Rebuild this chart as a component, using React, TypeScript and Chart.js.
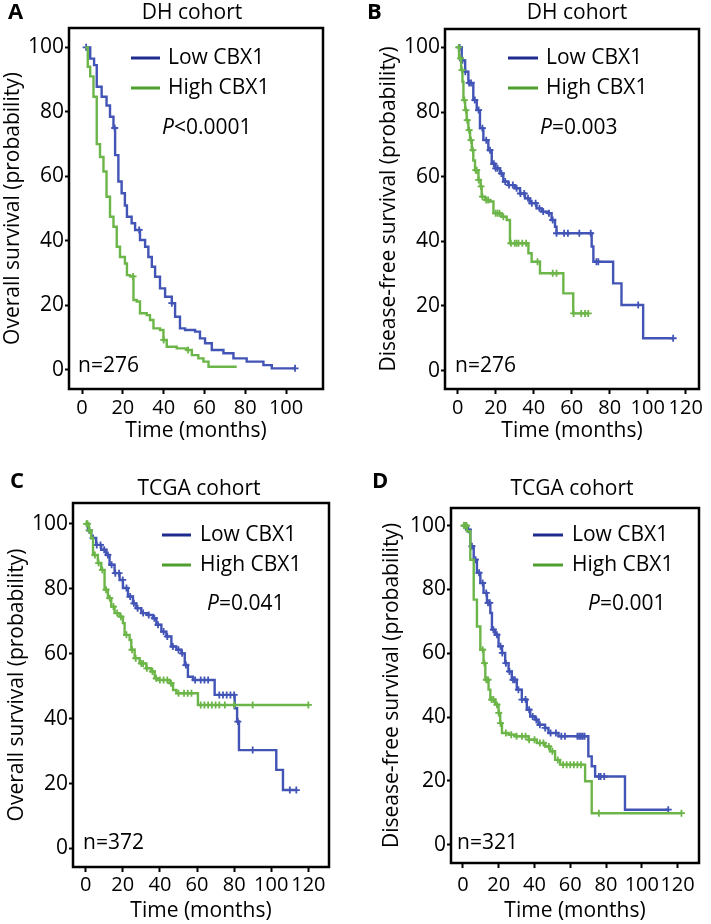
import React, { useEffect, useRef } from 'react';
import { Chart, registerables } from 'chart.js';
Chart.register(...registerables);

const FONT = "'Open Sans', sans-serif";
const BLUE = '#4254b5';
const GREEN = '#6cb548';
const BLUE_LEG = '#1f2b8f';
const GREEN_LEG = '#4f9f2e';

const seriesLabels = ['Low CBX1', 'High CBX1'];
const yTickValues = [0, 20, 40, 60, 80, 100];
const xTicksDH_OS = [0, 20, 40, 60, 80, 100];
const xTicks120 = [0, 20, 40, 60, 80, 100, 120];

// Panel A: DH cohort, overall survival
const aLowTime = [1.5, 4, 5.9, 7.2, 9.6, 12, 13.7, 15.4, 16.2, 17.8, 19.4, 21, 22, 24.3, 26, 28.4, 30.9, 32.5, 34.2, 35.8, 38.2, 40.7, 44, 45.6, 48, 50.5, 55.4, 57.8, 60.3, 63.6, 69.3, 74.2, 80.7, 88.9, 93, 104.4];
const aLowSurv = [100, 96.5, 94.5, 87.8, 84.7, 82, 78.5, 75, 66.6, 58.4, 54.8, 51, 47.5, 45.5, 43.4, 40.3, 38.2, 35, 32, 28.9, 25.3, 22.7, 20.7, 16.5, 12.9, 12.4, 11.9, 9.8, 8.3, 6.2, 5.2, 3.6, 2.6, 1.5, 0.5, 0.5];
const aLowCens = [2, 16, 28, 44, 104.4];
const aHighTime = [1.5, 2.8, 4, 5.6, 7.2, 8.8, 10.5, 12, 13.7, 15.4, 17, 18.6, 21, 22, 23.5, 25.2, 26.8, 28.4, 31.7, 33.3, 35, 38.2, 39.9, 41.5, 46.4, 51.3, 53.8, 57, 59.5, 62, 75.8];
const aHighSurv = [100, 94, 91, 84.7, 70, 66, 61.5, 53.7, 47.5, 44.4, 38.2, 35, 33, 29.4, 29, 21.7, 21.2, 17.6, 17, 15.5, 12.9, 12.4, 9.3, 7.2, 6.7, 6.2, 4.6, 3.6, 2.6, 1, 1];
const aHighCens = [25, 40, 52];

// Panel B: DH cohort, disease-free survival
const bLowTime = [0, 2.1, 3.9, 5.6, 8.2, 10, 11.7, 13.5, 16.1, 17.9, 19.6, 22.3, 24, 26.6, 30.1, 32.8, 35.4, 38, 41.5, 44.2, 47.7, 49.4, 51.2, 52, 70.5, 71.4, 81.8, 86.2, 97.6, 113.4];
const bLowSurv = [100, 96, 92.5, 89, 83.7, 80.6, 75, 71.3, 68.2, 64, 62.6, 61, 58.5, 57.4, 56.4, 54.8, 53.3, 51.8, 50.2, 49.2, 48.7, 46.6, 44.5, 42.5, 38.4, 33.7, 27, 20.3, 10, 10];
const bLowCens = [1, 2.5, 4, 6, 7, 9, 11, 13, 15, 17, 19, 20, 21, 23, 25, 27, 29, 31, 33, 35, 37, 39, 41, 43, 45, 48, 50, 52, 56, 58, 64, 70, 73, 74, 95, 113.4];
const bHighTime = [0, 0.7, 1.8, 2.5, 3, 3.9, 4.7, 5.6, 6.5, 7.4, 8.2, 9.1, 10.9, 12, 12.6, 14.4, 17, 18.8, 23.1, 25.8, 27.5, 37.2, 38.9, 43.3, 55.6, 60.8, 68.7];
const bHighSurv = [100, 96.6, 93, 89.4, 83.7, 80.6, 77.5, 74.4, 71.3, 68.2, 65, 62, 59, 57, 53.8, 52.8, 52.3, 48.7, 47.6, 46.6, 39.4, 36.3, 33.7, 30.1, 23.9, 17.7, 17.7];
const bHighCens = [0.5, 1.5, 2.2, 3.5, 4.3, 5, 6, 7, 8, 9.5, 10, 11, 12.3, 13, 15, 16, 20, 21, 22, 24, 28, 30, 31, 32, 34, 36, 42, 50, 52, 61, 65, 67, 68.7];

// Panel C: TCGA cohort, overall survival
const cLowTime = [0, 1.3, 3, 5.7, 8.4, 11.1, 12.9, 15.6, 18.3, 20.1, 22.8, 25.5, 27.3, 30, 33.6, 36.3, 38.1, 40.8, 43.5, 46.2, 48.9, 51.6, 53.4, 55.1, 57.8, 69.5, 80.3, 81.6, 82.6, 102.7, 106.3, 113.5];
const cLowSurv = [100, 98, 95.6, 93.5, 92, 90.4, 87.4, 84.8, 82.7, 80.2, 77.6, 75.5, 74, 72.5, 71.9, 70.9, 68.9, 66.8, 65.3, 62.2, 61.2, 60.1, 56.5, 52.9, 51.9, 47.3, 43.2, 39.1, 30.3, 24.2, 18, 18];
const cLowCens = [2, 4, 6, 8, 10, 12, 14, 16, 18, 20, 22, 24, 26, 28, 31, 34, 37, 39, 42, 44, 47, 50, 52, 54, 59, 62, 64, 66, 72, 74, 76, 78, 80, 82, 90, 110, 113.5];
const cHighTime = [0, 1.8, 3, 4, 6.6, 8.4, 10.2, 12, 13.8, 15.6, 18.3, 20.1, 21, 23.7, 24.6, 26.4, 29.1, 32.7, 35.4, 37.2, 39, 45.3, 47.1, 48.9, 60.5, 120];
const cHighSurv = [100, 98, 95.6, 90.4, 87.9, 85.8, 79.7, 77.1, 74.5, 72.5, 71.4, 69.4, 65.8, 64.2, 61.2, 58.6, 57, 55.5, 54.5, 52.4, 51.9, 50.9, 48.8, 47.8, 44.2, 44.2];
const cHighCens = [0.5, 1, 2, 5, 7, 9, 11, 13, 15, 17, 19, 22, 25, 27, 30, 31, 33, 36, 38, 40, 42, 44, 46, 50, 53, 55, 57, 62, 64, 66, 68, 70, 72, 75, 80, 90, 120];

// Panel D: TCGA cohort, disease-free survival
const dLowTime = [0, 2.2, 4.1, 6, 7.8, 9.7, 11.5, 13.4, 15.3, 16.2, 18, 19.9, 21.8, 23.6, 25.5, 27.3, 30.1, 32.9, 35.7, 37.6, 40.4, 42.2, 45.9, 47.8, 53.4, 70.1, 72, 73.9, 90.6, 114.8];
const dLowSurv = [100, 98.7, 93.5, 89.3, 85.2, 82, 78.9, 75.8, 72.6, 67.4, 65.8, 62.2, 60.1, 56.9, 54.3, 51.7, 48.6, 45.5, 42.3, 40.2, 39.2, 37.6, 36.6, 35, 34, 27.7, 24.6, 21.4, 11, 11];
const dLowCens = [1, 3, 5, 7, 9, 11, 13, 14, 15, 17, 19, 21, 22, 24, 26, 28, 29, 31, 33, 35, 37, 39, 41, 43, 46, 49, 52, 55, 57, 64, 65, 66, 67, 68, 76, 77, 79, 114.8];
const dHighTime = [0, 2.2, 4.1, 6, 7.8, 9.7, 11.5, 12.5, 14.3, 15.3, 18, 19.9, 20.8, 21.8, 25.5, 29.2, 36.7, 41.3, 46, 48.7, 51.5, 54.3, 68.3, 72, 122.2];
const dHighSurv = [100, 98.2, 89.3, 76.8, 68.4, 61.1, 56.9, 51.7, 48.6, 45.5, 43.9, 41.3, 38.1, 35, 34.5, 34, 32.9, 31.9, 30.8, 29.3, 26.6, 25.1, 19.9, 9.9, 9.9];
const dHighCens = [0.5, 1, 1.5, 2, 11, 12, 13, 14, 16, 17, 19, 20, 21, 24, 27, 30, 33, 35, 37, 40, 43, 45, 48, 50, 53, 56, 58, 60, 62, 64, 66, 76, 122.2];

const survAt = (times: number[], surv: number[], t: number) => {
  let s = surv[0];
  for (let i = 0; i < times.length; i++) if (times[i] <= t) s = surv[i];
  return s;
};

const panels = [
  {
    letter: 'A', title: 'DH cohort', yTitle: 'Overall survival (probability)', p: '<0.0001', n: 'n=276',
    lowT: aLowTime, lowS: aLowSurv, lowC: aLowCens, highT: aHighTime, highS: aHighSurv, highC: aHighCens,
    xMin: -6.4, xMax: 118.1, yMin: -5.9, yMax: 106, xTicks: xTicksDH_OS,
    box: { left: 0, top: 0, w: 355, h: 445 }, yAxisW: 69, padTop: 28, padRight: 32, xAxisH: 56,
    yTitlePad: 0, xTitlePad: 1.4, xTickPad: 2,
    titleX: 192, titleY: 13, letterX: 8, letterY: 13,
    legX0: 62, legX1: 91, legTextX: 99, legY: [30, 60], pX: 93, pY: 100, nX: 9, nY: 23,
  },
  {
    letter: 'B', title: 'DH cohort', yTitle: 'Disease-free survival (probability)', p: '=0.003', n: 'n=276',
    lowT: bLowTime, lowS: bLowSurv, lowC: bLowCens, highT: bHighTime, highS: bHighSurv, highC: bHighCens,
    xMin: -6.7, xMax: 127, yMin: -5.7, yMax: 105.7, xTicks: xTicks120,
    box: { left: 355, top: 0, w: 356, h: 445 }, yAxisW: 90, padTop: 29, padRight: 12, xAxisH: 56,
    yTitlePad: 21.4, xTitlePad: 1.4, xTickPad: 2,
    titleX: 222, titleY: 13, letterX: 12, letterY: 13,
    legX0: 63, legX1: 93, legTextX: 101, legY: [29, 59], pX: 95, pY: 99, nX: 10, nY: 23,
  },
  {
    letter: 'C', title: 'TCGA cohort', yTitle: 'Overall survival (probability)', p: '=0.041', n: 'n=372',
    lowT: cLowTime, lowS: cLowSurv, lowC: cLowCens, highT: cHighTime, highS: cHighSurv, highC: cHighCens,
    xMin: -6.8, xMax: 131.1, yMin: -5.7, yMax: 106.4, xTicks: xTicks120,
    box: { left: 0, top: 445, w: 355, h: 479 }, yAxisW: 73, padTop: 58, padRight: 26, xAxisH: 57,
    yTitlePad: 4.4, xTitlePad: 0, xTickPad: 1,
    titleX: 199, titleY: 44, letterX: 10, letterY: 37,
    legX0: 89, legX1: 118, legTextX: 127, legY: [32, 62], pX: 134, pY: 101, nX: 10, nY: 24,
  },
  {
    letter: 'D', title: 'TCGA cohort', yTitle: 'Disease-free survival (probability)', p: '=0.001', n: 'n=321',
    lowT: dLowTime, lowS: dLowSurv, lowC: dLowCens, highT: dHighTime, highS: dHighSurv, highC: dHighCens,
    xMin: -6.7, xMax: 132, yMin: -5.7, yMax: 105.5, xTicks: xTicks120,
    box: { left: 355, top: 445, w: 356, h: 479 }, yAxisW: 96, padTop: 63, padRight: 12, xAxisH: 61,
    yTitlePad: 24.4, xTitlePad: 0, xTickPad: 5,
    titleX: 217, titleY: 44, letterX: 17, letterY: 37,
    legX0: 82, legX1: 112, legTextX: 121, legY: [27, 57], pX: 137, pY: 96, nX: 6, nY: 20,
  },
];

type P = (typeof panels)[number];

const decor = {
  id: 'kmDecor',
  afterDraw(chart: any, _args: any, o: any) {
    const { ctx, chartArea: ca } = chart;
    ctx.save();
    ctx.strokeStyle = '#000';
    ctx.lineWidth = 2.5;
    ctx.strokeRect(ca.left, ca.top, ca.right - ca.left, ca.bottom - ca.top);
    ctx.fillStyle = '#000';
    ctx.textBaseline = 'middle';
    ctx.textAlign = 'left';
    ctx.font = `bold 22px ${FONT}`;
    ctx.fillText(o.letter, o.letterX, o.letterY);
    ctx.font = `21px ${FONT}`;
    ctx.textAlign = 'center';
    ctx.fillText(o.title, o.titleX, o.titleY);
    ctx.textAlign = 'left';
    const legColors = [BLUE_LEG, GREEN_LEG];
    seriesLabels.forEach((label, i) => {
      const y = ca.top + o.legY[i];
      ctx.strokeStyle = legColors[i];
      ctx.lineWidth = 3;
      ctx.beginPath();
      ctx.moveTo(ca.left + o.legX0, y);
      ctx.lineTo(ca.left + o.legX1, y);
      ctx.stroke();
      ctx.fillText(label, ca.left + o.legTextX, y);
    });
    let x = ca.left + o.pX;
    const py = ca.top + o.pY;
    ctx.font = `italic 21px ${FONT}`;
    ctx.fillText('P', x, py);
    x += ctx.measureText('P').width;
    ctx.font = `21px ${FONT}`;
    ctx.fillText(o.p, x, py);
    ctx.fillText(o.n, ca.left + o.nX, ca.bottom - o.nY);
    ctx.restore();
  },
};

function buildConfig(p: P): any {
  const line = (t: number[], s: number[], color: string, label: string) => ({
    type: 'line',
    label,
    data: t.map((v, i) => ({ x: v, y: s[i] })),
    borderColor: color,
    borderWidth: 2.4,
    stepped: true,
    pointRadius: 0,
    fill: false,
  });
  const cens = (c: number[], t: number[], s: number[], color: string, label: string) => ({
    type: 'scatter',
    label,
    data: c.map((v) => ({ x: v, y: survAt(t, s, v) })),
    borderColor: color,
    backgroundColor: color,
    pointStyle: 'cross',
    pointRadius: 3.5,
    borderWidth: 1.8,
    showLine: false,
  });
  return {
    type: 'line',
    data: {
      datasets: [
        line(p.highT, p.highS, GREEN, seriesLabels[1]),
        cens(p.highC, p.highT, p.highS, GREEN, seriesLabels[1] + ' censored'),
        line(p.lowT, p.lowS, BLUE, seriesLabels[0]),
        cens(p.lowC, p.lowT, p.lowS, BLUE, seriesLabels[0] + ' censored'),
      ],
    },
    options: {
      animation: false,
      responsive: false,
      devicePixelRatio: 1,
      layout: { padding: { left: 0, top: p.padTop, right: p.padRight, bottom: 0 } },
      plugins: {
        legend: { display: false },
        tooltip: { enabled: false },
        title: { display: false },
        kmDecor: p,
      },
      scales: {
        x: {
          type: 'linear',
          min: p.xMin,
          max: p.xMax,
          afterBuildTicks: (s: any) => { s.ticks = p.xTicks.map((v) => ({ value: v })); },
          afterFit: (s: any) => { s.height = p.xAxisH; },
          grid: { display: true, drawOnChartArea: false, drawTicks: true, tickLength: 5, tickWidth: 2, tickColor: '#000' },
          border: { display: false },
          ticks: { color: '#000', font: { family: FONT, size: 20 }, padding: p.xTickPad, maxRotation: 0, autoSkip: false },
          title: { display: true, text: 'Time (months)', color: '#000', font: { family: FONT, size: 21 }, padding: { top: 0, bottom: p.xTitlePad } },
        },
        y: {
          type: 'linear',
          min: p.yMin,
          max: p.yMax,
          afterBuildTicks: (s: any) => { s.ticks = yTickValues.map((v) => ({ value: v })); },
          afterFit: (s: any) => { s.width = p.yAxisW; },
          grid: { display: true, drawOnChartArea: false, drawTicks: true, tickLength: 4, tickWidth: 2, tickColor: '#000' },
          border: { display: false },
          ticks: { color: '#000', font: { family: FONT, size: 21 }, padding: 1, autoSkip: false },
          title: { display: true, text: p.yTitle, color: '#000', font: { family: FONT, size: 21 }, padding: { top: p.yTitlePad, bottom: 0 } },
        },
      },
    },
    plugins: [decor],
  };
}

export default function App() {
  const refs = useRef<(HTMLCanvasElement | null)[]>([]);
  useEffect(() => {
    const charts = panels.map((p, i) => new Chart(refs.current[i] as HTMLCanvasElement, buildConfig(p)));
    return () => charts.forEach((c) => c.destroy());
  }, []);
  return (
    <div style={{ position: 'absolute', left: 0, top: 0, width: 711, height: 924, background: '#fff' }}>
      {panels.map((p, i) => (
        <canvas
          key={p.letter}
          ref={(el) => { refs.current[i] = el; }}
          width={p.box.w}
          height={p.box.h}
          style={{ position: 'absolute', left: p.box.left, top: p.box.top, width: p.box.w, height: p.box.h }}
        />
      ))}
    </div>
  );
}
